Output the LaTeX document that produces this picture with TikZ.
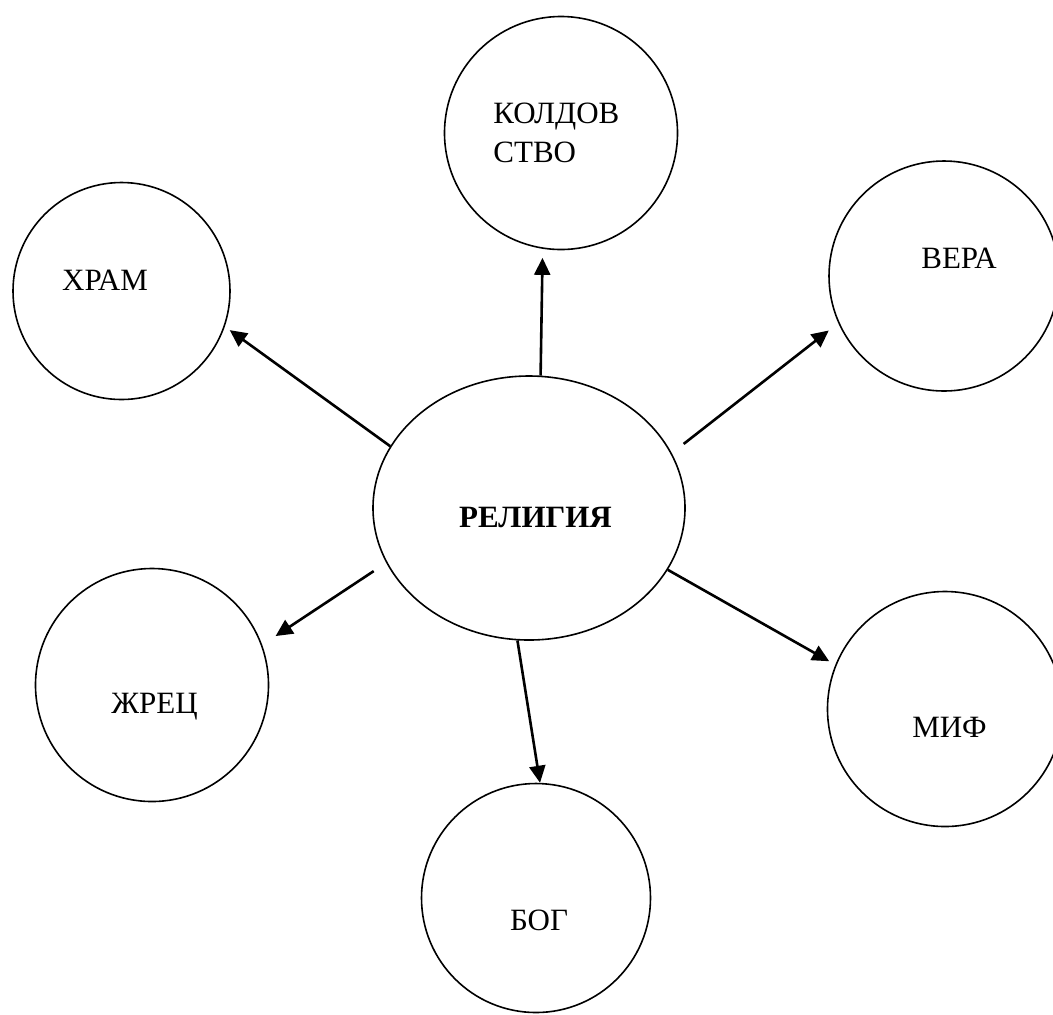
\documentclass[tikz,border=0pt]{standalone}
\usepackage{fontspec}
\setmainfont{Liberation Serif}
\usetikzlibrary{arrows.meta,shapes.geometric}

\begin{document}
\begin{tikzpicture}[
	x = 0.5pt, y = -0.5pt,
	topic/.style = {draw, circle, line width = 0.8pt, inner sep = 0pt, minimum size = #1},
	core/.style = {draw, ellipse, line width = 0.8pt, inner sep = 0pt, minimum width = 156pt, minimum height = 132pt},
	word/.style = {anchor = base, inner sep = 0pt, font = \fontsize{15.5}{19.5}\selectfont},
	link/.style = {-{Triangle[length = 8.5pt, width = 8pt]}, line width = 1.3pt}
]
\useasboundingbox (0,0) rectangle (1053,1014);
\node [core] (rel) at (529,508) {};
\node [word, font = \bfseries\fontsize{15.5}{19.5}\selectfont] (reltext) at (535.5,527) {РЕЛИГИЯ};
\node [topic = 116.5pt] (kold) at (561,133) {};
\node [word, anchor = base west, align = left] (koldtext) at (493,162) {КОЛДОВ\\СТВО};
\node [topic = 108.5pt] (hram) at (121.5,291) {};
\node [word] (hramtext) at (105,290) {ХРАМ};
\node [topic = 115pt] (vera) at (944,276) {};
\node [word] (veratext) at (959,268) {ВЕРА};
\node [topic = 116.5pt] (zhrec) at (152,685) {};
\node [word] (zhrectext) at (154.5,713) {ЖРЕЦ};
\node [topic = 117.5pt] (mif) at (945,709) {};
\node [word] (miftext) at (949.5,737) {МИФ};
\node [topic = 114.5pt] (bog) at (536,898) {};
\node [word] (bogtext) at (539,930) {БОГ};
\draw [link, shorten >= 4.5pt] (rel.85) -- (kold.261);
\draw [link, shorten >= 3pt] (rel.156) -- (hram.-19);
\draw [link, shorten <= 7.5pt, shorten >= 6pt] (rel.21) -- (vera.204);
\draw [link, shorten <= 7.5pt, shorten >= 8pt] (rel.201) -- (zhrec.20);
\draw [link, shorten >= 3.5pt] (rel.-24) -- (mif.158);
\draw [link] (rel.265) -- (bog.88);
\end{tikzpicture}
\end{document}
